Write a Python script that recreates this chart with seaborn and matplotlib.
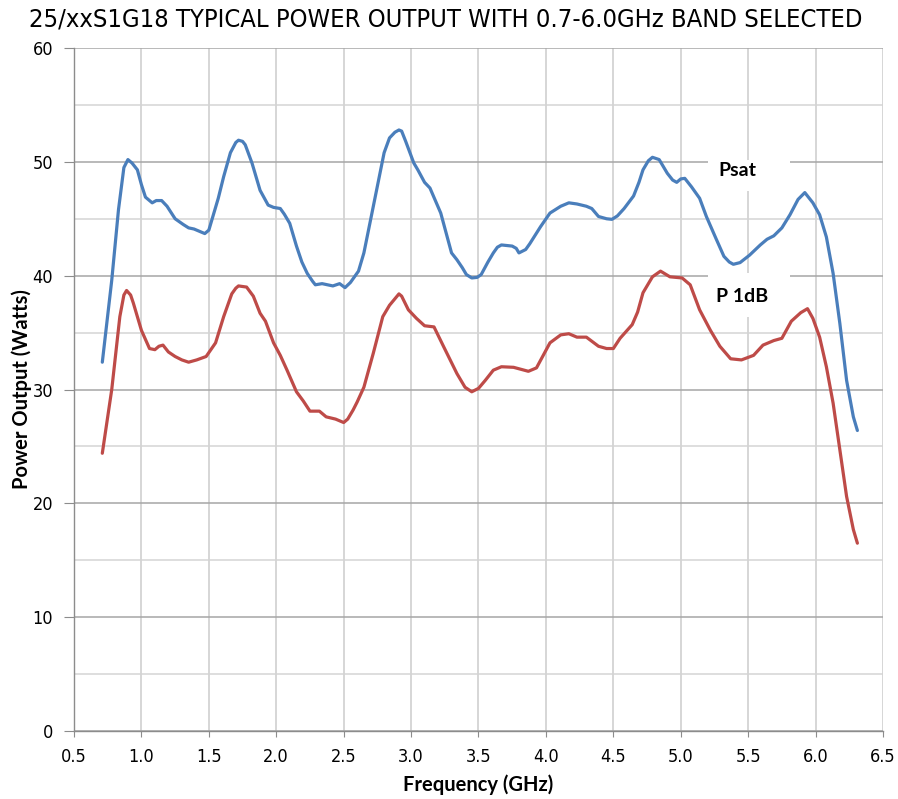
import matplotlib
matplotlib.use("Agg")
import matplotlib.pyplot as plt
import seaborn as sns
import pandas as pd
from matplotlib.ticker import MultipleLocator
from matplotlib.patches import Rectangle
from matplotlib import font_manager as fm

psat_freq = [0.71, 0.78, 0.83, 0.87, 0.90, 0.93, 0.97, 1.00, 1.03, 1.08, 1.11, 1.15, 1.19, 1.25, 1.31,
             1.35, 1.39, 1.43, 1.47, 1.50, 1.53, 1.57, 1.61, 1.66, 1.70, 1.72, 1.75, 1.77, 1.82, 1.88,
             1.94, 1.98, 2.03, 2.06, 2.10, 2.15, 2.19, 2.23, 2.27, 2.29, 2.34, 2.38, 2.42, 2.47, 2.51,
             2.55, 2.61, 2.65, 2.72, 2.80, 2.84, 2.88, 2.91, 2.93, 2.96, 3.02, 3.05, 3.10, 3.14, 3.18,
             3.22, 3.30, 3.34, 3.38, 3.41, 3.45, 3.49, 3.52, 3.57, 3.61, 3.64, 3.67, 3.75, 3.78, 3.80,
             3.85, 3.88, 3.96, 4.03, 4.11, 4.17, 4.23, 4.30, 4.34, 4.39, 4.45, 4.49, 4.53, 4.58, 4.65,
             4.69, 4.72, 4.76, 4.79, 4.84, 4.90, 4.94, 4.97, 5.00, 5.03, 5.08, 5.14, 5.19, 5.26, 5.32,
             5.36, 5.39, 5.44, 5.51, 5.59, 5.64, 5.69, 5.75, 5.81, 5.87, 5.92, 5.98, 6.03, 6.08, 6.13,
             6.18, 6.23, 6.28, 6.31]
psat = [32.4, 39.6, 45.8, 49.5, 50.2, 49.9, 49.3, 48.0, 46.9, 46.4, 46.6, 46.6, 46.1, 45.0, 44.5,
        44.2, 44.1, 43.9, 43.7, 44.0, 45.2, 46.8, 48.7, 50.8, 51.7, 51.9, 51.8, 51.5, 49.9, 47.5,
        46.2, 46.0, 45.9, 45.4, 44.6, 42.6, 41.2, 40.2, 39.5, 39.2, 39.3, 39.2, 39.1, 39.3, 38.95,
        39.4, 40.4, 42.0, 46.1, 50.8, 52.1, 52.6, 52.8, 52.7, 51.8, 49.9, 49.3, 48.2, 47.7, 46.6,
        45.5, 42.0, 41.4, 40.7, 40.1, 39.8, 39.85, 40.1, 41.2, 42.0, 42.5, 42.7, 42.6, 42.4, 42.0,
        42.3, 42.8, 44.3, 45.5, 46.1, 46.4, 46.3, 46.1, 45.9, 45.2, 45.0, 44.95, 45.25, 45.9, 47.0,
        48.2, 49.3, 50.1, 50.4, 50.2, 49.0, 48.4, 48.2, 48.5, 48.55, 47.8, 46.8, 45.2, 43.3, 41.7,
        41.2, 41.0, 41.15, 41.8, 42.7, 43.2, 43.5, 44.2, 45.35, 46.7, 47.3, 46.4, 45.35, 43.4, 40.2,
        35.8, 30.8, 27.6, 26.4]

p1db_freq = [0.71, 0.78, 0.84, 0.87, 0.89, 0.92, 0.94, 1.00, 1.06, 1.10, 1.13, 1.16, 1.20, 1.25, 1.30,
             1.35, 1.41, 1.48, 1.55, 1.61, 1.67, 1.70, 1.72, 1.78, 1.83, 1.88, 1.92, 1.98, 2.03, 2.08,
             2.15, 2.20, 2.25, 2.32, 2.37, 2.44, 2.50, 2.53, 2.57, 2.60, 2.65, 2.72, 2.79, 2.84, 2.91,
             2.93, 2.98, 3.04, 3.10, 3.17, 3.24, 3.34, 3.40, 3.45, 3.50, 3.55, 3.61, 3.67, 3.76, 3.87,
             3.93, 3.98, 4.03, 4.11, 4.17, 4.23, 4.30, 4.39, 4.45, 4.50, 4.55, 4.64, 4.68, 4.72, 4.79,
             4.85, 4.92, 5.01, 5.07, 5.14, 5.22, 5.29, 5.37, 5.45, 5.54, 5.61, 5.69, 5.75, 5.82, 5.89,
             5.94, 5.98, 6.03, 6.08, 6.13, 6.18, 6.23, 6.28, 6.31]
p1db = [24.4, 30.0, 36.4, 38.3, 38.7, 38.3, 37.6, 35.2, 33.6, 33.5, 33.8, 33.9, 33.3, 32.9, 32.6,
        32.4, 32.6, 32.9, 34.1, 36.4, 38.4, 38.9, 39.1, 39.0, 38.2, 36.7, 36.0, 34.1, 33.0, 31.7,
        29.8, 29.0, 28.1, 28.1, 27.6, 27.4, 27.1, 27.4, 28.2, 28.9, 30.2, 33.2, 36.4, 37.4, 38.4,
        38.2, 37.0, 36.25, 35.6, 35.5, 33.8, 31.4, 30.2, 29.8, 30.1, 30.8, 31.7, 32.0, 31.95, 31.6,
        31.9, 33.0, 34.1, 34.8, 34.9, 34.6, 34.6, 33.8, 33.6, 33.6, 34.5, 35.7, 36.8, 38.5, 39.9,
        40.4, 39.9, 39.8, 39.2, 37.0, 35.2, 33.8, 32.7, 32.6, 33.0, 33.9, 34.3, 34.5, 36.0, 36.75,
        37.1, 36.25, 34.6, 32.0, 28.8, 24.7, 20.6, 17.7, 16.5]

series_names = ["Psat", "P 1dB"]
series_colors = ["#4a7ebb", "#be4b48"]
x_ticks = [0.5, 1.0, 1.5, 2.0, 2.5, 3.0, 3.5, 4.0, 4.5, 5.0, 5.5, 6.0, 6.5]
y_ticks = [0, 10, 20, 30, 40, 50, 60]

df = pd.concat([
    pd.DataFrame({"freq": psat_freq, "power": psat, "series": series_names[0]}),
    pd.DataFrame({"freq": p1db_freq, "power": p1db, "series": series_names[1]}),
])

sns.set_style("white")
plt.rcParams["text.color"] = "black"
plt.rcParams["xtick.color"] = "black"
plt.rcParams["ytick.color"] = "black"
plt.rcParams["axes.labelcolor"] = "black"

# condensed face if the system has it
cond_files = [f.fname for f in fm.fontManager.ttflist
              if f.name == "DejaVu Sans" and f.stretch in ("condensed", 300, "semi-condensed")
              and f.weight in ("normal", 400) and f.style == "normal"]
if cond_files:
    narrow_fp = fm.FontProperties(fname=cond_files[0])
    title_size, tick_size = 18.3, 13
else:
    narrow_fp = fm.FontProperties(family="DejaVu Sans")
    title_size, tick_size = 16, 12
boldfam = ["Lato", "DejaVu Sans"]

fig = plt.figure(figsize=(8.98, 7.99), dpi=100)
ax = fig.add_axes([0.0824, 0.0851, 0.9009, 0.8548])

sns.lineplot(data=df, x="freq", y="power", hue="series", palette=series_colors,
             hue_order=series_names, estimator=None, sort=False, linewidth=2.3,
             legend=False, ax=ax, zorder=3)

ax.set_xlim(0.5, 6.5)
ax.set_ylim(0, 60)
ax.set_xticks(x_ticks)
ax.set_xticklabels([f"{t:.1f}" for t in x_ticks], fontproperties=narrow_fp, fontsize=tick_size)
ax.set_yticks(y_ticks)
ax.set_yticklabels([str(t) for t in y_ticks], fontproperties=narrow_fp, fontsize=tick_size)
ax.yaxis.set_minor_locator(MultipleLocator(5))

ax.grid(True, which="major", axis="y", color="#a6a6a6", linewidth=1.1, zorder=0)
ax.grid(True, which="minor", axis="y", color="#d4d4d4", linewidth=1.1, zorder=0)
ax.grid(True, which="major", axis="x", color="#cccccc", linewidth=1.1, zorder=0)
ax.set_axisbelow(True)

for s in ["top", "right"]:
    ax.spines[s].set_visible(False)
for s in ["left", "bottom"]:
    ax.spines[s].set_color("#8c8c8c")
    ax.spines[s].set_linewidth(1.0)

ax.tick_params(axis="y", which="major", left=True, length=7, color="#8c8c8c",
               labelcolor="black", pad=8)
ax.tick_params(axis="y", which="minor", left=False)
ax.tick_params(axis="x", which="major", bottom=True, length=4, color="#8c8c8c",
               labelcolor="black", pad=8)

ax.set_xlabel("Frequency (GHz)", family=boldfam, fontweight="bold", fontsize=14.5, color="black")
ax.set_ylabel("Power Output (Watts)", family=boldfam, fontweight="bold", fontsize=14.5, color="black")
ax.xaxis.set_label_coords(0.5, -0.064)
ax.yaxis.set_label_coords(-0.052, 0.5)

fig.text(0.496, 0.975, "25/xxS1G18 TYPICAL POWER OUTPUT WITH 0.7-6.0GHz BAND SELECTED",
         fontproperties=narrow_fp, fontsize=title_size, ha="center", va="center", color="black")

ax.add_patch(Rectangle((5.20, 47.4), 0.61, 2.8, facecolor="white", edgecolor="none", zorder=2))
ax.add_patch(Rectangle((5.20, 36.4), 0.61, 3.8, facecolor="white", edgecolor="none", zorder=2))
ax.text(5.42, 49.2, series_names[0], family=boldfam, fontweight="bold", fontsize=14,
        ha="center", va="center", zorder=4, color="black")
ax.text(5.455, 38.2, series_names[1], family=boldfam, fontweight="bold", fontsize=14,
        ha="center", va="center", zorder=4, color="black")

fig.savefig("out.png", dpi=100)
